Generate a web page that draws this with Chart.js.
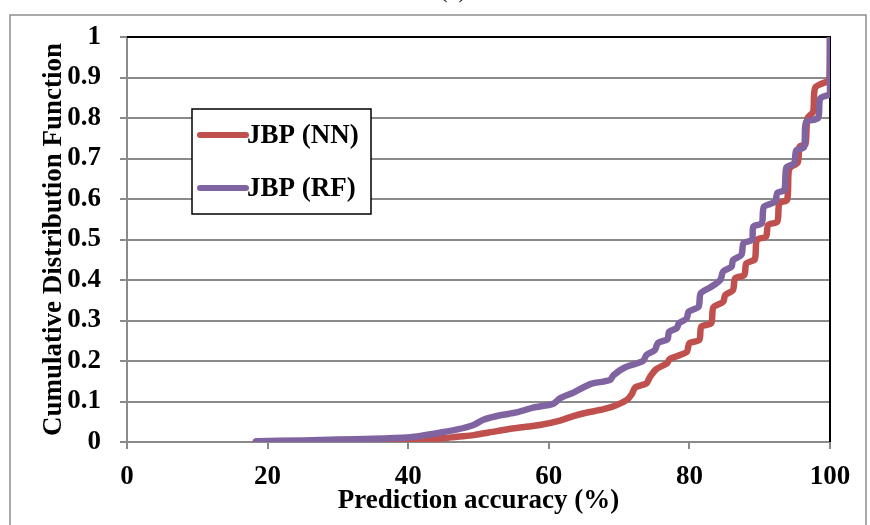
<!DOCTYPE html>
<html>
<head>
<meta charset="utf-8">
<script src="https://cdn.jsdelivr.net/npm/chart.js@4.4.1/dist/chart.umd.min.js"></script>
<style>
  body { margin: 0; background: #fff; }
  .wrap { position: relative; width: 870px; height: 525px; overflow: hidden; }
  .panel-tag { position: absolute; left: 0; width: 906px; top: -24px; text-align: center;
    font: 25px "Liberation Serif", serif; line-height: 25px; }
</style>
</head>
<body>
<div class="wrap">
  <div class="panel-tag">(a)</div>
  <canvas id="cdfChart" width="870" height="525"></canvas>
</div>
<script>
// --- data ---
const xTicks = [0, 20, 40, 60, 80, 100];
const yTicks = [0, 0.1, 0.2, 0.3, 0.4, 0.5, 0.6, 0.7, 0.8, 0.9, 1];

const nnLabel = 'JBP (NN)';
const nnX = [18.3, 30, 40, 42, 45, 47, 49.3, 52, 54, 56.5, 58.7, 61.6, 63.5, 65, 67.8, 69.5, 71.1, 71.8, 72.3,
  73.9, 74.4, 75.3, 76.8, 77.2, 79.6, 80, 81.4, 81.7, 83.1, 83.4, 84.8, 85.1, 86.2, 86.5, 87.8, 88.1, 89.3, 89.6,
  90.9, 91.2, 92.5, 92.8, 93.9, 94.2, 95.4, 95.7, 96.5, 96.8, 97.6, 97.9, 99.6, 99.9, 100];
const nnY = [0, 0.001, 0.003, 0.005, 0.009, 0.013, 0.017, 0.025, 0.031, 0.037, 0.042, 0.053, 0.064, 0.071, 0.081, 0.09, 0.104, 0.118, 0.135,
  0.145, 0.161, 0.18, 0.194, 0.205, 0.222, 0.244, 0.252, 0.285, 0.293, 0.332, 0.346, 0.363, 0.375, 0.404, 0.412, 0.441, 0.451, 0.499,
  0.507, 0.536, 0.544, 0.589, 0.598, 0.675, 0.69, 0.73, 0.735, 0.8, 0.815, 0.875, 0.89, 0.89, 1];

const rfLabel = 'JBP (RF)';
const rfX = [18.4, 25, 30, 35, 40.3, 41.7, 44.5, 47, 49.3, 50.7, 53.1, 55.4, 57.8, 60.6, 61.6, 63.5, 65.9, 68.7, 69.2,
  70.8, 73.4, 73.9, 75.1, 75.5, 76.9, 77.1, 78.2, 78.5, 79.6, 79.9, 81.3, 81.6, 83, 84.4, 84.8, 86, 86.2, 87.4, 87.7,
  88.9, 89.1, 90.3, 90.6, 92.2, 92.5, 93.5, 93.8, 94.9, 95.2, 96.3, 96.6, 98.3, 98.6, 99.8, 100, 100];
const rfY = [0.002, 0.004, 0.006, 0.008, 0.012, 0.015, 0.023, 0.031, 0.042, 0.055, 0.066, 0.073, 0.085, 0.094, 0.108, 0.122, 0.143, 0.153, 0.165,
  0.184, 0.2, 0.215, 0.227, 0.244, 0.254, 0.272, 0.281, 0.293, 0.305, 0.322, 0.334, 0.367, 0.382, 0.4, 0.421, 0.433, 0.449, 0.462, 0.491,
  0.499, 0.532, 0.54, 0.581, 0.593, 0.615, 0.622, 0.678, 0.688, 0.72, 0.728, 0.79, 0.8, 0.848, 0.857, 0.86, 1];

const toPoints = (xs, ys) => xs.map((x, i) => ({ x: x, y: ys[i] }));

const serif = '"Liberation Serif", "Times New Roman", serif';
const gridGray = '#8a8a8a';
const fontSize = 27;

// outer frame + black top/right edge of the plot area
const framePlugin = {
  id: 'frame',
  beforeDraw(chart) {
    const ctx = chart.ctx;
    ctx.save();
    ctx.strokeStyle = '#8f8f8f';
    ctx.lineWidth = 1.5;
    ctx.strokeRect(10, 15, 856, 530);
    ctx.restore();
  },
  beforeDatasetsDraw(chart) {
    const { ctx, chartArea: a } = chart;
    ctx.save();
    ctx.strokeStyle = '#000';
    ctx.lineWidth = 2;
    ctx.beginPath();
    ctx.moveTo(a.left, a.top);
    ctx.lineTo(a.right, a.top);
    ctx.lineTo(a.right, a.bottom);
    ctx.stroke();
    ctx.restore();
  }
};

// boxed legend inside the plot, like the original
const boxLegend = {
  id: 'boxLegend',
  afterDraw(chart) {
    const ctx = chart.ctx;
    const box = { x: 192, y: 109, w: 179, h: 105 };
    ctx.save();
    ctx.fillStyle = '#fff';
    ctx.fillRect(box.x, box.y, box.w, box.h);
    ctx.strokeStyle = '#000';
    ctx.lineWidth = 1.5;
    ctx.strokeRect(box.x, box.y, box.w, box.h);
    ctx.font = 'bold ' + fontSize + 'px ' + serif;
    ctx.textBaseline = 'middle';
    ctx.fillStyle = '#000';
    chart.data.datasets.forEach((ds, i) => {
      const y = box.y + 26 + i * 53;
      ctx.strokeStyle = ds.borderColor;
      ctx.lineWidth = 6;
      ctx.lineCap = 'round';
      ctx.beginPath();
      ctx.moveTo(200, y);
      ctx.lineTo(246, y);
      ctx.stroke();
      ctx.fillText(ds.label, 247, y + 1);
    });
    ctx.restore();
  }
};

new Chart(document.getElementById('cdfChart').getContext('2d'), {
  type: 'line',
  data: {
    datasets: [{
      label: nnLabel,
      data: toPoints(nnX, nnY),
      borderColor: '#C0504D',
      borderWidth: 6.5,
      pointRadius: 0,
      tension: 0.25,
      borderJoinStyle: 'round',
      borderCapStyle: 'round',
      order: 1
    }, {
      label: rfLabel,
      data: toPoints(rfX, rfY),
      borderColor: '#8064A2',
      borderWidth: 6.5,
      pointRadius: 0,
      tension: 0.25,
      borderJoinStyle: 'round',
      borderCapStyle: 'round',
      order: 0
    }]
  },
  options: {
    responsive: false,
    animation: false,
    layout: { padding: { top: 37, right: 40, bottom: 0, left: 0 } },
    plugins: {
      legend: { display: false },
      tooltip: { enabled: false }
    },
    scales: {
      x: {
        type: 'linear',
        min: 0,
        max: 100,
        afterFit: s => { s.height = 83; },
        afterBuildTicks: s => { s.ticks = xTicks.map(v => ({ value: v })); },
        grid: { drawOnChartArea: false, color: gridGray, lineWidth: 2, tickLength: 7 },
        border: { color: gridGray, width: 2 },
        ticks: { padding: 12, color: '#000', font: { family: serif, size: fontSize, weight: 'bold' } },
        title: {
          display: true,
          text: 'Prediction accuracy (%)',
          color: '#000',
          padding: { top: 0, bottom: 8 },
          font: { family: serif, size: fontSize, weight: 'bold' }
        }
      },
      y: {
        type: 'linear',
        min: 0,
        max: 1,
        afterFit: s => { s.width = 127; },
        afterBuildTicks: s => { s.ticks = yTicks.map(v => ({ value: v })); },
        grid: { color: gridGray, lineWidth: 2, tickLength: 7 },
        border: { color: gridGray, width: 2 },
        ticks: {
          padding: 19,
          color: '#000',
          font: { family: serif, size: fontSize, weight: 'bold' },
          callback: v => String(Math.round(v * 10) / 10)
        },
        title: {
          display: true,
          text: 'Cumulative Distribution Function',
          color: '#000',
          padding: { top: 38, bottom: 0 },
          font: { family: serif, size: fontSize, weight: 'bold' }
        }
      }
    }
  },
  plugins: [framePlugin, boxLegend]
});
</script>
</body>
</html>
